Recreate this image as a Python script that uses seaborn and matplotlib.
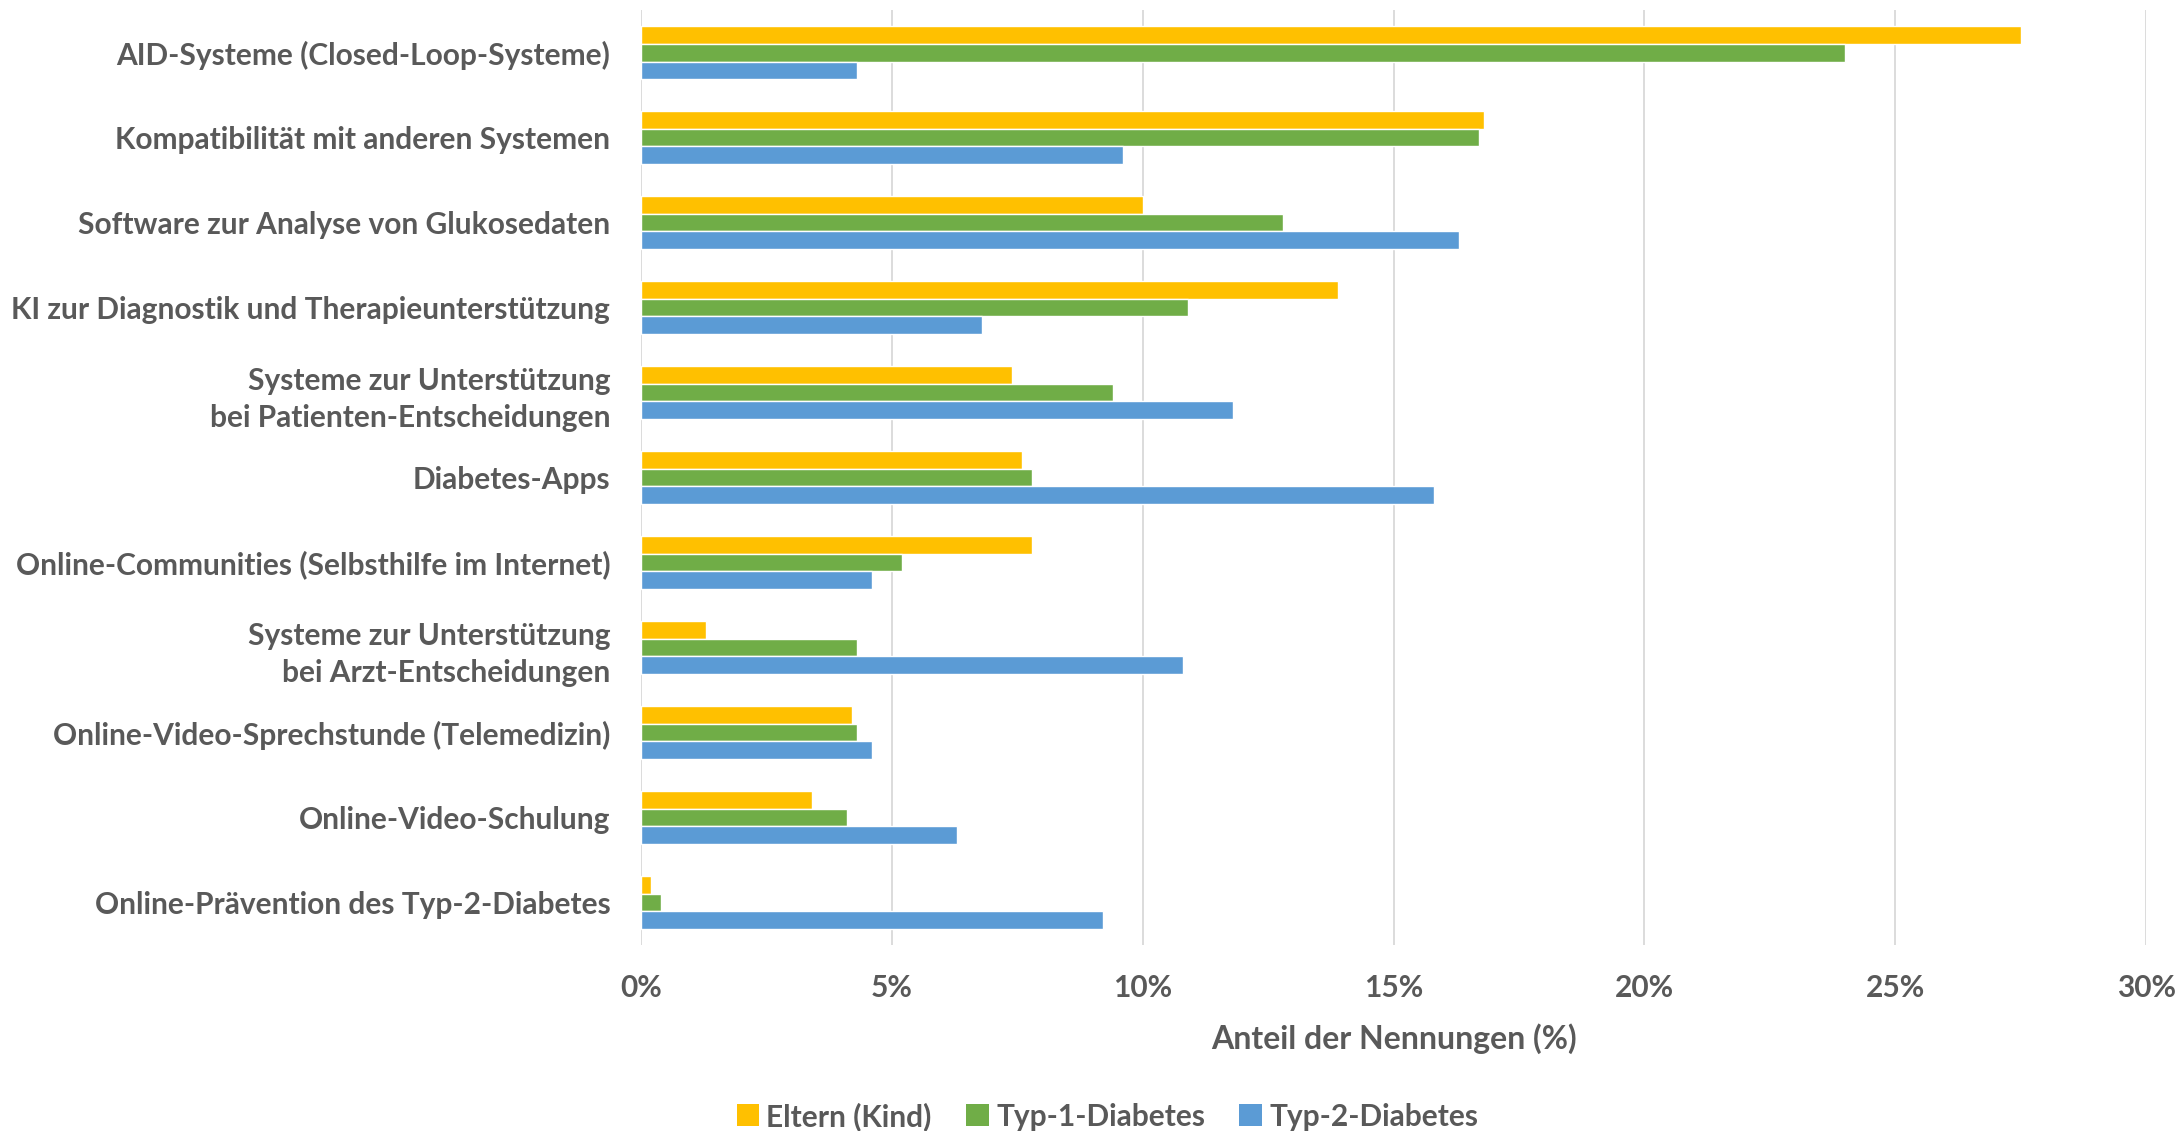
import matplotlib
matplotlib.use("Agg")
import matplotlib.pyplot as plt
from matplotlib.patches import Patch
from matplotlib.ticker import FuncFormatter, MultipleLocator
import pandas as pd
import seaborn as sns

categories = [
    "AID-Systeme (Closed-Loop-Systeme)",
    "Kompatibilität mit anderen Systemen",
    "Software zur Analyse von Glukosedaten",
    "KI zur Diagnostik und Therapieunterstützung",
    "Systeme zur Unterstützung\nbei Patienten-Entscheidungen",
    "Diabetes-Apps",
    "Online-Communities (Selbsthilfe im Internet)",
    "Systeme zur Unterstützung\nbei Arzt-Entscheidungen",
    "Online-Video-Sprechstunde (Telemedizin)",
    "Online-Video-Schulung",
    "Online-Prävention des Typ-2-Diabetes",
]
series_names = ["Eltern (Kind)", "Typ-1-Diabetes", "Typ-2-Diabetes"]
eltern = [27.5, 16.8, 10.0, 13.9, 7.4, 7.6, 7.8, 1.3, 4.2, 3.4, 0.2]
typ1 = [24.0, 16.7, 12.8, 10.9, 9.4, 7.8, 5.2, 4.3, 4.3, 4.1, 0.4]
typ2 = [4.3, 9.6, 16.3, 6.8, 11.8, 15.8, 4.6, 10.8, 4.6, 6.3, 9.2]
colors = ["#FFC000", "#70AD47", "#5B9BD5"]
text_color = "#595959"

rows = []
for name, vals in zip(series_names, [eltern, typ1, typ2]):
    for cat, v in zip(categories, vals):
        rows.append({"Kategorie": cat, "Gruppe": name, "Anteil": v})
df = pd.DataFrame(rows)

sns.set_theme(style="white")
plt.rcParams["font.family"] = ["Lato", "DejaVu Sans"]
plt.rcParams["font.weight"] = "bold"

fig = plt.figure(figsize=(21.8, 11.31), dpi=100)
ax = fig.add_axes([0.294, 0.1645, 0.6905, 0.8265])

sns.barplot(
    data=df, y="Kategorie", x="Anteil", hue="Gruppe",
    order=categories, hue_order=series_names,
    palette=colors, orient="h", width=0.625, gap=0,
    saturation=1, errorbar=None, legend=False, ax=ax,
)

ax.set_xlim(0, 30)
ax.xaxis.set_major_locator(MultipleLocator(5))
ax.xaxis.set_major_formatter(FuncFormatter(lambda v, _: f"{v:.0f}%"))
ax.grid(axis="x", color="#D9D9D9", linewidth=1.3)
ax.grid(axis="y", visible=False)
ax.set_axisbelow(True)
for s in ax.spines.values():
    s.set_visible(False)

ax.tick_params(axis="both", length=0, labelsize=21.5, labelcolor=text_color)
ax.tick_params(axis="x", pad=21)
ax.tick_params(axis="y", pad=22)
for lbl in ax.get_yticklabels():
    lbl.set_fontweight("bold")
    lbl.set_horizontalalignment("right")
    lbl.set_multialignment("right")
    lbl.set_linespacing(1.4)
for lbl in ax.get_xticklabels():
    lbl.set_fontweight("bold")

ax.set_ylabel("")
ax.set_xlabel("Anteil der Nennungen (%)", fontsize=23, fontweight="bold",
              color=text_color, labelpad=15)

handles = [Patch(facecolor=c, edgecolor="none", label=n) for c, n in zip(colors, series_names)]
leg = fig.legend(
    handles=handles, loc="center", bbox_to_anchor=(0.508, 0.013),
    ncol=3, frameon=False, handlelength=0.75, handleheight=0.75,
    handletextpad=0.25, columnspacing=1.15,
    prop={"size": 21.5, "weight": "bold"},
)
for t in leg.get_texts():
    t.set_color(text_color)

fig.savefig("out.png", dpi=100)
